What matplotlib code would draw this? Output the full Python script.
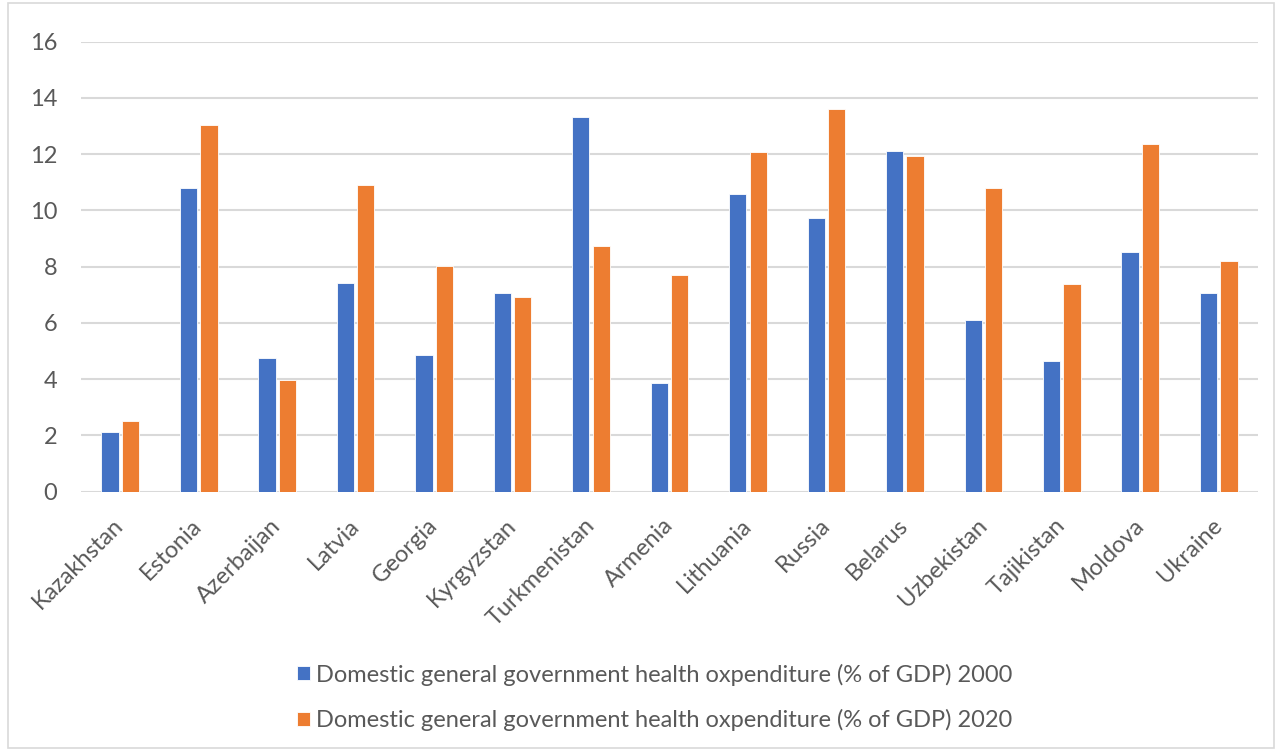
import numpy as np
import matplotlib
matplotlib.use("Agg")
import matplotlib.pyplot as plt
from matplotlib.patches import Rectangle

countries = ["Kazakhstan", "Estonia", "Azerbaijan", "Latvia", "Georgia",
             "Kyrgyzstan", "Turkmenistan", "Armenia", "Lithuania", "Russia",
             "Belarus", "Uzbekistan", "Tajikistan", "Moldova", "Ukraine"]
exp_2000 = [2.12, 10.81, 4.74, 7.41, 4.85, 7.08, 13.33, 3.88, 10.57, 9.74,
            12.11, 6.10, 4.66, 8.53, 7.08]
exp_2020 = [2.52, 13.04, 3.98, 10.90, 8.04, 6.93, 8.72, 7.70, 12.07, 13.62,
            11.92, 10.81, 7.37, 12.36, 8.19]
yticks = [0, 2, 4, 6, 8, 10, 12, 14, 16]
label_2000 = "Domestic general government health oxpenditure (% of GDP) 2000"
label_2020 = "Domestic general government health oxpenditure (% of GDP) 2020"

plt.rcParams['font.family'] = ['Lato', 'DejaVu Sans']

fig = plt.figure(figsize=(12.79, 7.51), dpi=100)
ax = fig.add_axes([0.0633, 0.3453, 0.9203, 0.5992])

x = np.arange(len(countries))
w = 0.22
gap = 0.04
ax.bar(x - (w + gap) / 2, exp_2000, width=w, color='#4472C4',
       edgecolor='white', linewidth=0.6, label=label_2000, zorder=3)
ax.bar(x + (w + gap) / 2, exp_2020, width=w, color='#ED7D31',
       edgecolor='white', linewidth=0.6, label=label_2020, zorder=3)

ax.set_xlim(-0.5, len(countries) - 0.5)
ax.set_ylim(0, 16)
ax.set_yticks(yticks)
ax.set_xticks(x)
ax.set_xticklabels(countries, rotation=45, ha='right', va='center',
                   rotation_mode='anchor')
ax.tick_params(axis='both', length=0, colors='#595959')
ax.tick_params(axis='y', pad=17, labelsize=17)
ax.tick_params(axis='x', pad=22, labelsize=17)
ax.grid(axis='y', color='#d9d9d9', linewidth=1.5, zorder=0)
for s in ax.spines.values():
    s.set_visible(False)

fig.legend(loc='center', bbox_to_anchor=(0.512, 0.0715), ncol=1, frameon=False,
           fontsize=17, handlelength=0.55, handleheight=0.55, handletextpad=0.28,
           labelspacing=0.98, labelcolor='#595959')

fig.patches.append(Rectangle((0.006, 0.004), 0.99, 0.992, transform=fig.transFigure,
                             fill=False, edgecolor='#d9d9d9', linewidth=1.2))

fig.savefig("out.png", dpi=100)
